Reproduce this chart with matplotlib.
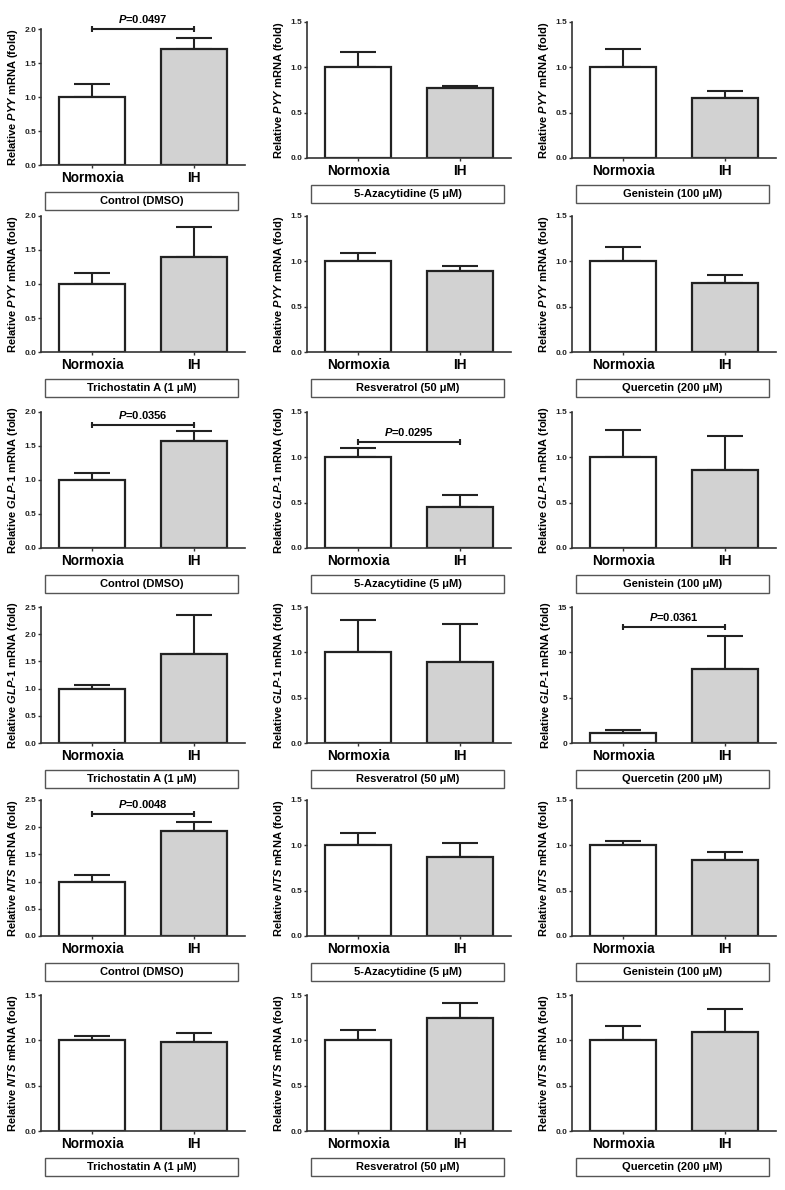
import matplotlib
matplotlib.use('Agg')
import matplotlib.pyplot as plt
import numpy as np
from matplotlib.patches import Rectangle

plt.rcParams['font.family'] = ['Liberation Sans', 'DejaVu Sans']
plt.rcParams['font.weight'] = 'bold'
plt.rcParams['mathtext.fontset'] = 'custom'
plt.rcParams['mathtext.it'] = 'Liberation Sans:italic:bold'
plt.rcParams['mathtext.rm'] = 'Liberation Sans:bold'
plt.rcParams['mathtext.bf'] = 'Liberation Sans:bold'

# data
groups = ['Normoxia', 'IH']
treatments = ['Control (DMSO)', '5-Azacytidine (5 μM)', 'Genistein (100 μM)',
              'Trichostatin A (1 μM)', 'Resveratrol (50 μM)', 'Quercetin (200 μM)']

pyy_means = [[1.0, 1.71], [1.0, 0.77], [1.0, 0.66], [1.0, 1.40], [1.0, 0.89], [1.0, 0.76]]
pyy_sem = [[0.19, 0.16], [0.17, 0.02], [0.20, 0.08], [0.16, 0.44], [0.09, 0.06], [0.16, 0.09]]
pyy_ymax = [2.0, 1.5, 1.5, 2.0, 1.5, 1.5]

glp1_means = [[1.0, 1.57], [1.0, 0.45], [1.0, 0.86], [1.0, 1.64], [1.0, 0.89], [1.05, 8.2]]
glp1_sem = [[0.10, 0.15], [0.10, 0.13], [0.30, 0.38], [0.07, 0.72], [0.36, 0.42], [0.40, 3.6]]
glp1_ymax = [2.0, 1.5, 1.5, 2.5, 1.5, 15]

nts_means = [[1.0, 1.93], [1.0, 0.87], [1.0, 0.84], [1.0, 0.98], [1.0, 1.25], [1.0, 1.09]]
nts_sem = [[0.13, 0.16], [0.14, 0.16], [0.05, 0.09], [0.05, 0.10], [0.11, 0.16], [0.16, 0.26]]
nts_ymax = [2.5, 1.5, 1.5, 1.5, 1.5, 1.5]

# significant comparisons: (gene, panel index) -> (label, bracket height)
p_values = {
    ('PYY', 0): ('0.0497', 2.0),
    ('GLP-1', 0): ('0.0356', 1.81),
    ('GLP-1', 1): ('0.0295', 1.17),
    ('GLP-1', 5): ('0.0361', 12.75),
    ('NTS', 0): ('0.0048', 2.24),
}

genes = [
    ('PYY', r'Relative $\mathit{PYY}$ mRNA (fold)', pyy_means, pyy_sem, pyy_ymax),
    ('GLP-1', r'Relative $\mathit{GLP}$-$\mathit{1}$ mRNA (fold)', glp1_means, glp1_sem, glp1_ymax),
    ('NTS', r'Relative $\mathit{NTS}$ mRNA (fold)', nts_means, nts_sem, nts_ymax),
]

W, H = 785, 1190
fig = plt.figure(figsize=(W / 100, H / 100), dpi=100)

col_left = [41, 307, 572]
ax_w = 204
row_top = [22, 216, 412, 607, 800, 995]
ax_h = 136
bar_color = ['white', '#d2d2d2']
dark = '#222222'

for g, (gene, ylab, means, sems, ymaxs) in enumerate(genes):
    for k in range(6):
        row = g * 2 + k // 3
        col = k % 3
        top = row_top[row] + (7 if (row == 0 and col == 0) else 0)
        left = col_left[col]
        ax = fig.add_axes([left / W, 1 - (top + ax_h) / H, ax_w / W, ax_h / H])

        x = np.arange(2)
        m = np.array(means[k])
        s = np.array(sems[k])
        ax.errorbar(x, m, yerr=[np.zeros(2), s], fmt='none', ecolor=dark,
                    elinewidth=1.5, capsize=13, capthick=1.5, zorder=1)
        ax.bar(x, m, width=0.65, color=bar_color, edgecolor=dark, linewidth=1.6, zorder=2)

        ymax = ymaxs[k]
        step = 5 if ymax > 5 else 0.5
        ax.set_ylim(0, ymax)
        ax.set_xlim(-0.5, 1.5)
        ticks = np.arange(0, ymax + step / 2, step)
        ax.set_yticks(ticks)
        if step >= 1:
            ax.set_yticklabels([f'{t:.0f}' for t in ticks])
        else:
            ax.set_yticklabels([f'{t:.1f}' for t in ticks])
        ax.set_xticks(x)
        ax.set_xticklabels(groups, fontsize=9.8, fontweight='bold')
        ax.tick_params(axis='y', labelsize=6, length=2.5, width=1, pad=1, colors='#333333')
        ax.tick_params(axis='x', length=2.5, width=1, pad=2, colors='#333333')
        for lbl in ax.get_xticklabels():
            lbl.set_color('black')
        for lbl in ax.get_yticklabels():
            lbl.set_color('#222222')
        for side in ['top', 'right']:
            ax.spines[side].set_visible(False)
        for side in ['left', 'bottom']:
            ax.spines[side].set_linewidth(1.2)
            ax.spines[side].set_color('#333333')
        ax.set_ylabel(ylab, fontsize=8, fontweight='bold', labelpad=3)

        if (gene, k) in p_values:
            ptxt, py = p_values[(gene, k)]
            ax.plot([0, 1], [py, py], color=dark, lw=1.5, clip_on=False, zorder=3)
            ax.plot([0, 1], [py, py], ls='none', marker='|', ms=5, mew=1.5,
                    color=dark, clip_on=False, zorder=3)
            ax.annotate(r'$\mathit{P}$=' + ptxt, xy=(0.5, py), xytext=(0, 3),
                        textcoords='offset points', ha='center', va='bottom',
                        fontsize=8, fontweight='bold', annotation_clip=False)

        # treatment label box below each panel
        bx0 = left + 4
        bw = 193
        by0 = top + ax_h + 27
        bh = 18
        fig.patches.append(Rectangle((bx0 / W, 1 - (by0 + bh) / H), bw / W, bh / H,
                                     transform=fig.transFigure, facecolor='white',
                                     edgecolor='#555555', linewidth=1.0))
        fig.text((bx0 + bw / 2) / W, 1 - (by0 + bh / 2) / H, treatments[k],
                 ha='center', va='center', fontsize=8, fontweight='bold')

fig.savefig('out.png', dpi=100)
